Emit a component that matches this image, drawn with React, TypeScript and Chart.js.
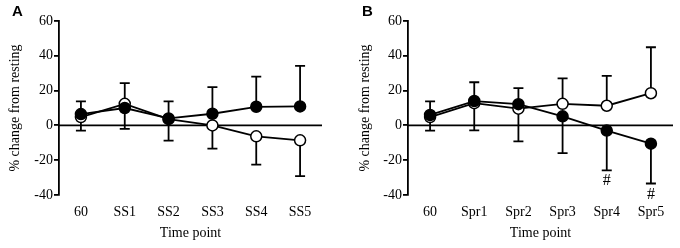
import React, { useEffect, useRef } from "react";
import { Chart, registerables } from "chart.js";

Chart.register(...registerables);

// Panel A
const categoriesA = ["60", "SS1", "SS2", "SS3", "SS4", "SS5"];
const filledA = [6.5, 10, 4, 6.7, 10.7, 10.9];
const filledErrEndA = [13.8, 24.3, 13.8, 22, 28, 34.2];
const openA = [4.8, 12.4, 3.6, 0, -6.3, -8.6];
const openErrEndA = [-3, -2, -8.8, -13.4, -22.5, -29.2];
const hashA: (number | null)[] = [null, null, null, null, null, null];

// Panel B
const categoriesB = ["60", "Spr1", "Spr2", "Spr3", "Spr4", "Spr5"];
const filledB = [6, 14, 12.2, 5.2, -3, -10.5];
const filledErrEndB = [13.8, 24.8, 21.4, -15.9, -25.8, -33.4];
const openB = [4.8, 12.8, 9.6, 12.4, 11.3, 18.5];
const openErrEndB = [-3, -2.9, -9.2, 27, 28.5, 44.9];
const hashB: (number | null)[] = [null, null, null, null, -32, -40];

const yTicks = [-40, -20, 0, 20, 40, 60];
const yTitle = "% change from resting";
const xTitle = "Time point";

const SERIF = "'Liberation Serif', 'DejaVu Serif', serif";
const LW = 1.8;

type PanelProps = {
  label: string;
  categories: string[];
  filled: number[];
  filledErr: number[];
  open: number[];
  openErr: number[];
  hash: (number | null)[];
  axisWidth: number;
  padRight: number;
  yTitleX: number;
  labelX: number;
};

function Panel(p: PanelProps) {
  const ref = useRef<HTMLCanvasElement>(null);
  useEffect(() => {
    if (!ref.current) return;
    const errPlugin = {
      id: "errs",
      beforeDatasetsDraw(chart: any) {
        const { ctx, chartArea, scales } = chart;
        const x = scales.x;
        const y = scales.y;
        ctx.save();
        ctx.strokeStyle = "#000";
        ctx.lineWidth = LW;
        const y0 = y.getPixelForValue(0);
        ctx.beginPath();
        ctx.moveTo(chartArea.left, y0);
        ctx.lineTo(chartArea.right, y0);
        ctx.stroke();
        const drawBars = (vals: number[], ends: number[]) => {
          vals.forEach((v, i) => {
            const px = x.getPixelForValue(i);
            const a = y.getPixelForValue(v);
            const b = y.getPixelForValue(ends[i]);
            ctx.beginPath();
            ctx.moveTo(px, a);
            ctx.lineTo(px, b);
            ctx.moveTo(px - 5, b);
            ctx.lineTo(px + 5, b);
            ctx.stroke();
          });
        };
        drawBars(p.open, p.openErr);
        drawBars(p.filled, p.filledErr);
        ctx.restore();
      },
      afterDraw(chart: any) {
        const { ctx, chartArea, scales } = chart;
        ctx.save();
        ctx.fillStyle = "#000";
        ctx.font = "bold 15px 'Liberation Sans', Arial, sans-serif";
        ctx.textAlign = "left";
        ctx.textBaseline = "top";
        ctx.fillText(p.label, p.labelX, 4);
        ctx.font = `14px ${SERIF}`;
        ctx.textAlign = "center";
        ctx.textBaseline = "middle";
        ctx.fillText(xTitle, (chartArea.left + chartArea.right) / 2, 233);
        ctx.save();
        ctx.translate(p.yTitleX, (chartArea.top + chartArea.bottom) / 2);
        ctx.rotate(-Math.PI / 2);
        ctx.fillText(yTitle, 0, 0);
        ctx.restore();
        ctx.font = `16px ${SERIF}`;
        p.hash.forEach((h, i) => {
          if (h === null) return;
          ctx.fillText("#", scales.x.getPixelForValue(i), scales.y.getPixelForValue(h));
        });
        ctx.restore();
      },
    };
    const chart = new Chart(ref.current, {
      type: "line",
      data: {
        labels: p.categories,
        datasets: [
          {
            data: p.filled,
            borderColor: "#000",
            borderWidth: LW,
            backgroundColor: "#000",
            pointBackgroundColor: "#000",
            pointBorderColor: "#000",
            pointBorderWidth: 1.5,
            pointRadius: 5.5,
            tension: 0,
          },
          {
            data: p.open,
            borderColor: "#000",
            borderWidth: LW,
            backgroundColor: "#fff",
            pointBackgroundColor: "#fff",
            pointBorderColor: "#000",
            pointBorderWidth: 1.5,
            pointRadius: 5.5,
            tension: 0,
          },
        ],
      },
      options: {
        animation: false,
        responsive: false,
        devicePixelRatio: 1,
        layout: { padding: { top: 21, right: p.padRight, bottom: 0, left: 0 } },
        plugins: {
          legend: { display: false },
          tooltip: { enabled: false },
          title: { display: false },
        },
        scales: {
          x: {
            type: "category",
            offset: true,
            grid: { display: false, drawTicks: false },
            border: { display: false },
            ticks: {
              color: "#000",
              font: { family: SERIF, size: 14 },
              padding: 9,
              maxRotation: 0,
              autoSkip: false,
            },
            afterFit(scale: any) {
              scale.height = 53;
            },
          },
          y: {
            min: -40,
            max: 60,
            afterBuildTicks(scale: any) {
              scale.ticks = yTicks.map((v) => ({ value: v }));
            },
            grid: {
              drawOnChartArea: false,
              color: "#000",
              lineWidth: LW,
              tickLength: 5,
            },
            border: { display: true, color: "#000", width: LW },
            ticks: {
              color: "#000",
              font: { family: SERIF, size: 14 },
              padding: 1,
            },
            afterFit(scale: any) {
              scale.width = p.axisWidth;
            },
          },
        },
      } as any,
      plugins: [errPlugin],
    });
    return () => chart.destroy();
  }, []);
  return <canvas ref={ref} width={340} height={248} style={{ display: "block", width: 340, height: 248 }} />;
}

export default function App() {
  return (
    <div style={{ position: "fixed", left: 0, top: 0, width: 680, height: 248, display: "flex", background: "#fff" }}>
      <Panel
        label="A"
        categories={categoriesA}
        filled={filledA}
        filledErr={filledErrEndA}
        open={openA}
        openErr={openErrEndA}
        hash={hashA}
        axisWidth={59}
        padRight={18}
        yTitleX={15}
        labelX={12}
      />
      <Panel
        label="B"
        categories={categoriesB}
        filled={filledB}
        filledErr={filledErrEndB}
        open={openB}
        openErr={openErrEndB}
        hash={hashB}
        axisWidth={68}
        padRight={7}
        yTitleX={25}
        labelX={22}
      />
    </div>
  );
}
